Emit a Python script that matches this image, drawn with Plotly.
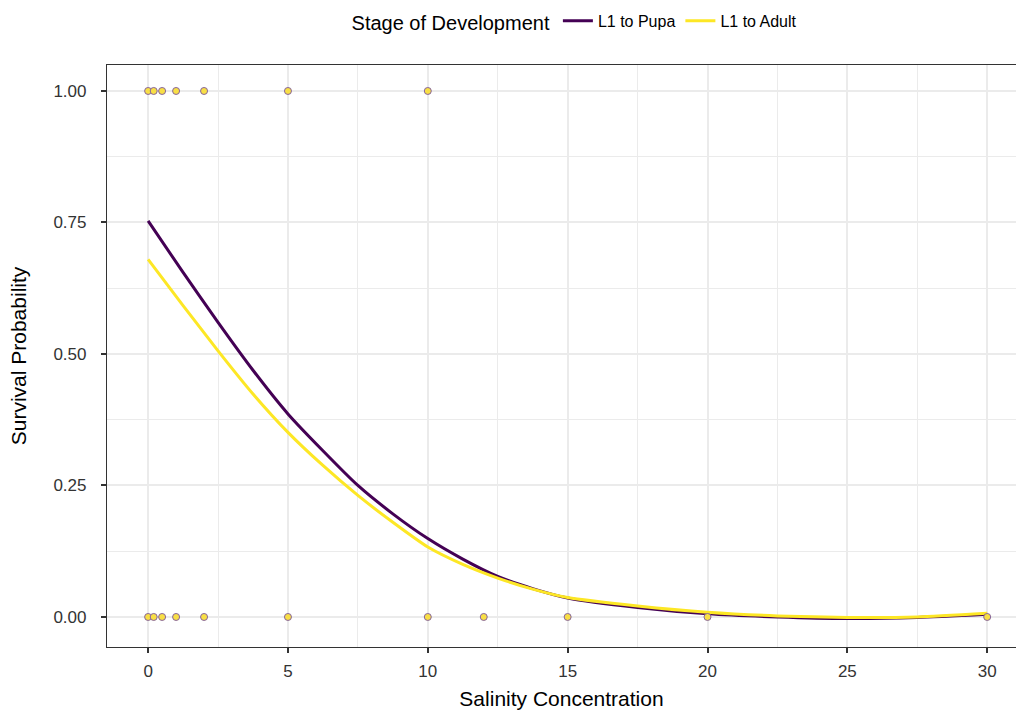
import plotly.graph_objects as go

# Observed data points (salinity, survival 0/1)
survived_x = [0, 0.2, 0.5, 1, 2, 5, 10]
survived_y = [1, 1, 1, 1, 1, 1, 1]
died_x = [0, 0.2, 0.5, 1, 2, 5, 10, 12, 15, 20, 30]
died_y = [0, 0, 0, 0, 0, 0, 0, 0, 0, 0, 0]

# Fitted curves
curve_x = [0, 1.25, 2.5, 3.75, 5, 6.25, 7.5, 8.75, 10, 11.25, 12.5, 13.75, 15,
           17.5, 20, 22.5, 25, 27.5, 30]
pupa_y = [0.753, 0.655, 0.560, 0.469, 0.386, 0.316, 0.250, 0.196, 0.149, 0.110, 0.077,
          0.054, 0.036, 0.018, 0.006, 0.000, -0.003, -0.001, 0.005]
adult_y = [0.680, 0.592, 0.506, 0.424, 0.351, 0.288, 0.231, 0.180, 0.133, 0.100, 0.074,
           0.053, 0.037, 0.021, 0.009, 0.002, -0.001, 0.000, 0.007]

x_ticks = [0, 5, 10, 15, 20, 25, 30]
y_ticks = [0.0, 0.25, 0.5, 0.75, 1.0]
y_tick_labels = ["0.00", "0.25", "0.50", "0.75", "1.00"]

FONT = "Liberation Sans, Arial, Helvetica, sans-serif"

fig = go.Figure()
fig.add_trace(go.Scatter(x=curve_x, y=pupa_y, mode="lines", name="L1 to Pupa",
                         line=dict(color="#440154", width=3, shape="spline", smoothing=0.6)))
fig.add_trace(go.Scatter(x=curve_x, y=adult_y, mode="lines", name="L1 to Adult",
                         line=dict(color="#FDE725", width=3, shape="spline", smoothing=0.6)))
pt_marker = dict(size=7, color="#F8DF45", line=dict(color="#86649F", width=1))
fig.add_trace(go.Scatter(x=survived_x, y=survived_y, mode="markers", marker=pt_marker,
                         showlegend=False, hoverinfo="skip"))
fig.add_trace(go.Scatter(x=died_x, y=died_y, mode="markers", marker=pt_marker,
                         showlegend=False, hoverinfo="skip"))

fig.update_layout(
    width=1016, height=712,
    margin=dict(l=107, r=0, t=65, b=65, autoexpand=False),
    paper_bgcolor="white", plot_bgcolor="white",
    font=dict(family=FONT, color="#000000"),
    legend=dict(orientation="h", x=0.516, xanchor="center", y=1.074, yanchor="middle",
                title=dict(text="Stage of Development", font=dict(size=20, color="#000")),
                font=dict(size=16, color="#000"), itemwidth=30, bgcolor="rgba(0,0,0,0)"),
    showlegend=True,
)
fig.update_xaxes(
    range=[-1.47, 31.03], tickvals=x_ticks, ticks="outside", ticklen=5, tickwidth=2,
    tickcolor="#333333", showline=True, linecolor="#333333", linewidth=1.2, mirror=True,
    showgrid=True, gridcolor="#EBEBEB", gridwidth=2, automargin=False,
    minor=dict(dtick=2.5, tick0=0, showgrid=True, gridcolor="#EBEBEB", gridwidth=1.3),
    tickfont=dict(size=17, color="#333333"), zeroline=False, ticklabelstandoff=3,
    title=dict(text="Salinity Concentration", font=dict(size=21, color="#000"), standoff=11),
)
fig.update_yaxes(
    range=[-0.0571, 1.0494], tickvals=y_ticks, ticktext=y_tick_labels, ticks="outside",
    ticklen=5, tickwidth=2, tickcolor="#333333", showline=True, linecolor="#333333",
    linewidth=1.2, showgrid=True, gridcolor="#EBEBEB", gridwidth=2, automargin=False,
    minor=dict(dtick=0.125, tick0=0, showgrid=True, gridcolor="#EBEBEB", gridwidth=1.3),
    tickfont=dict(size=17, color="#333333"), zeroline=False, ticklabelstandoff=11,
    title=dict(text="Survival Probability", font=dict(size=21, color="#000"), standoff=21),
)

fig.write_html("out.html", config={"displayModeBar": False},
               post_script="document.body.style.margin='0';document.body.style.overflow='hidden';")
